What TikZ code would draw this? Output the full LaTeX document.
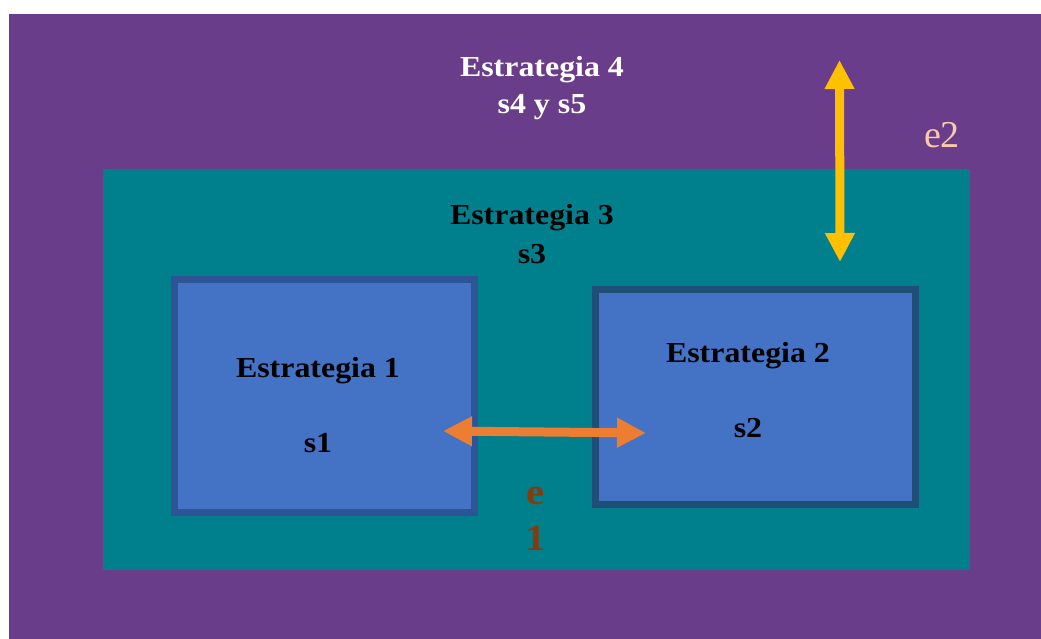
\documentclass[tikz,border=0pt]{standalone}
\usepackage{fontspec}
\setmainfont{Liberation Serif}[FakeStretch=1.1]
\newfontfamily\plainserif{Liberation Serif}
\usetikzlibrary{arrows.meta}
\definecolor{bgpurple}{HTML}{6A3D8A}
\definecolor{bgteal}{HTML}{00808D}
\definecolor{boxblue}{HTML}{4472C4}
\definecolor{borderA}{HTML}{2F5496}
\definecolor{borderB}{HTML}{1F4E79}
\definecolor{arrorange}{HTML}{ED7D31}
\definecolor{arryellow}{HTML}{FFC000}
\definecolor{etwo}{HTML}{F8CBAD}
\definecolor{eone}{HTML}{843C0C}
\tikzset{
  stratbox/.style={draw=#1, line width=7pt, fill=boxblue, inner sep=0pt},
  lbl/.style={anchor=base, inner sep=0pt, font=\bfseries\fontsize{29}{35}\selectfont},
  elbl/.style={anchor=base, inner sep=0pt, font=\bfseries\fontsize{37}{44}\selectfont, text=eone},
  dblarrow/.style={line width=9pt, draw=#1, {Triangle[length=29pt,width=28pt]}-{Triangle[length=29pt,width=28pt]}}
}
\begin{document}
\begin{tikzpicture}[x=1pt,y=-1pt]
\useasboundingbox (0,0) rectangle (1041,639);
\fill[white] (0,0) rectangle (1041,639);
\node[fill=bgpurple, inner sep=0pt, minimum width=1032pt, minimum height=625pt] (s4) at (525,326.5) {};
\node[fill=bgteal, inner sep=0pt, minimum width=867pt, minimum height=401pt] (s3) at (536.5,369.5) {};
\node[stratbox=borderA, minimum width=300pt, minimum height=233pt] (s1) at (324.5,396) {};
\node[stratbox=borderB, minimum width=320pt, minimum height=215pt] (s2) at (755.5,397) {};
% labels
\node[lbl, text=white] (t4a) at (542,77) {Estrategia 4};
\node[lbl, text=white] (t4b) at (542,114) {s4 y s5};
\node[lbl] (t3a) at (532,225) {Estrategia 3};
\node[lbl] (t3b) at (532,263) {s3};
\node[lbl] (t1a) at (318,377) {Estrategia 1};
\node[lbl] (t1b) at (318,452) {s1};
\node[lbl] (t2a) at (748,362) {Estrategia 2};
\node[lbl] (t2b) at (748,437) {s2};
\node[anchor=base, inner sep=0pt, text=etwo, font=\plainserif\fontsize{38}{44}\selectfont] (e2) at (942,148) {e2};
\node[elbl] (e1a) at (536,504) {e};
\node[elbl] (e1b) at (536,550) {1};
% arrows
\coordinate (oa) at (443,431);
\coordinate (ob) at (646,433);
\coordinate (ya) at (839.5,60);
\coordinate (yb) at (840,262);
\draw[dblarrow=arrorange] (oa) -- (ob);
\draw[dblarrow=arryellow] (ya) -- (yb);
\end{tikzpicture}
\end{document}
